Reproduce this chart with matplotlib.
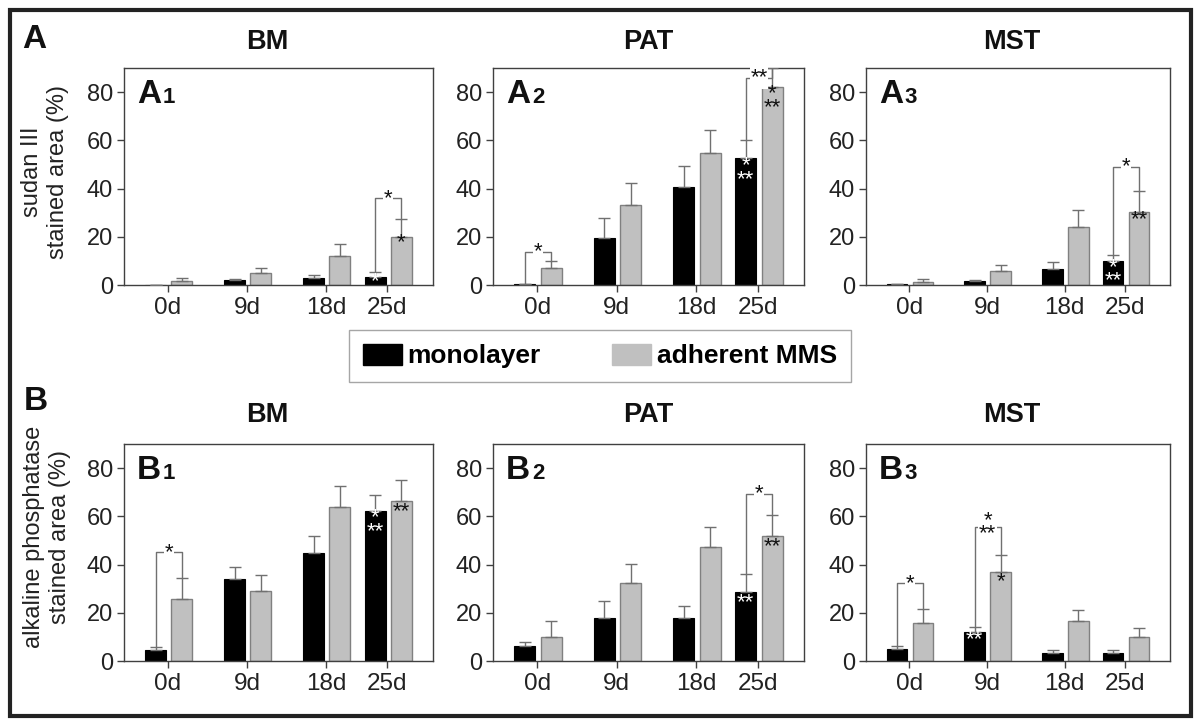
import matplotlib
matplotlib.use("Agg")
import matplotlib.pyplot as plt
from matplotlib.patches import Rectangle, Patch

plt.rcParams['font.family'] = ['Liberation Sans', 'DejaVu Sans']

days = [0, 9, 18, 25]
day_labels = ['0d', '9d', '18d', '25d']
sources = ['BM', 'PAT', 'MST']

# sudan III stained area (%), rows = BM, PAT, MST
sudan_mono = [[0.0, 1.9, 2.8, 3.5], [0.3, 19.7, 40.6, 52.6], [0.3, 1.7, 6.8, 9.8]]
sudan_mono_err = [[0.0, 0.7, 1.2, 1.8], [0.0, 8.0, 8.7, 7.5], [0.1, 0.5, 2.8, 2.5]]
sudan_adh = [[1.7, 4.8, 12.2, 20.1], [6.9, 33.1, 54.6, 82.1], [1.4, 6.0, 24.0, 30.2]]
sudan_adh_err = [[1.3, 2.1, 5.0, 7.2], [3.2, 9.1, 9.7, 7.7], [1.0, 2.4, 7.0, 8.6]]

# alkaline phosphatase stained area (%)
alp_mono = [[4.7, 33.9, 44.7, 62.4], [6.2, 17.9, 17.7, 28.7], [5.0, 11.9, 3.2, 3.2]]
alp_mono_err = [[1.3, 5.1, 7.2, 6.3], [1.8, 6.9, 5.3, 7.3], [1.4, 2.1, 1.2, 1.2]]
alp_adh = [[25.6, 28.9, 63.8, 66.3], [9.8, 32.4, 47.2, 51.9], [15.6, 36.8, 16.5, 9.8]]
alp_adh_err = [[9.0, 6.7, 8.7, 8.9], [6.7, 7.7, 8.4, 8.6], [5.9, 7.1, 4.5, 4.0]]

# significance brackets: (day index, bracket height, label)
sudan_brackets = [[(3, 36, '*')], [(0, 13.7, '*'), (3, 85.9, '**')], [(3, 48.9, '*')]]
alp_brackets = [[(0, 45.1, '*')], [(3, 69.2, '*')], [(0, 32.2, '*'), (1, 55.5, '*\n**')]]

# stars inside bars: (day index, series 0=mono 1=adh, y, label)
sudan_stars = [[(3, 0, 1.5, '*'), (3, 1, 17.5, '*')],
               [(3, 0, 46.5, '*\n**'), (3, 1, 76.5, '*\n**')],
               [(3, 0, 4.5, '*\n**'), (3, 1, 27, '**')]]
alp_stars = [[(3, 0, 56.5, '*\n**'), (3, 1, 62, '**')],
             [(3, 0, 24, '**'), (3, 1, 47.5, '**')],
             [(1, 0, 8.7, '**'), (1, 1, 33, '*')]]

BLACK = '#000000'
GREY = '#c0c0c0'
GREY_EDGE = '#808080'
ERR = '#707070'

W, H = 1200, 725
fig = plt.figure(figsize=(12, 7.25), dpi=100)


def rect(l, t, r, b):
    return [l / W, 1 - b / H, (r - l) / W, (b - t) / H]


cols = [(124, 433), (493, 804), (866, 1170)]
rows = [(68, 285), (444, 661)]
title_x = [267, 648, 1012]
off_mono, off_adh, bw = -1.4, 1.6, 2.4


def draw_panel(ax, mono, mono_err, adh, adh_err, brackets, stars, tag, num):
    xm = [d + off_mono for d in days]
    xa = [d + off_adh for d in days]
    ax.bar(xm, mono, bw, color=BLACK, edgecolor=BLACK, linewidth=0.8, zorder=2)
    ax.bar(xa, adh, bw, color=GREY, edgecolor=GREY_EDGE, linewidth=1.0, zorder=2)
    ax.errorbar(xm, mono, yerr=[[0] * 4, mono_err], fmt='none', ecolor=ERR,
                elinewidth=1, capsize=4, capthick=1, zorder=3)
    ax.errorbar(xa, adh, yerr=[[0] * 4, adh_err], fmt='none', ecolor=ERR,
                elinewidth=1, capsize=4, capthick=1, zorder=3)
    for i, top, lab in brackets:
        y0 = mono[i] + mono_err[i]
        y1 = adh[i] + adh_err[i]
        ax.plot([xm[i], xm[i], xa[i], xa[i]], [y0, top, top, y1],
                color=ERR, lw=1, zorder=3)
        ax.text((xm[i] + xa[i]) / 2, top, lab, ha='center', va='center', fontsize=16,
                linespacing=0.55, color='#111111', zorder=4,
                bbox=dict(facecolor='white', edgecolor='none', pad=0.5))
    for i, s, y, lab in stars:
        x = xm[i] if s == 0 else xa[i]
        ax.text(x, y, lab, ha='center', va='center', fontsize=16, linespacing=0.55,
                color='white' if s == 0 else '#111111', zorder=4)
    ax.set_xlim(-5, 30.2)
    ax.set_ylim(0, 90)
    ax.set_xticks(days)
    ax.set_xticklabels(day_labels)
    ax.set_yticks([0, 20, 40, 60, 80])
    ax.tick_params(direction='out', length=5, width=1, labelsize=17, pad=3,
                   color='#404040', labelcolor='#222222')
    ax.tick_params(axis='x', labelsize=17.5, pad=3.5)
    for sp in ax.spines.values():
        sp.set_color('#404040')
        sp.set_linewidth(1)
    ax.text(0.042, 0.839, tag, transform=ax.transAxes, fontsize=24, fontweight='bold',
            color='#111111', va='baseline')
    ax.text(0.126, 0.839, num, transform=ax.transAxes, fontsize=16, fontweight='bold',
            color='#111111', va='baseline')


for r, (data, tag) in enumerate([((sudan_mono, sudan_mono_err, sudan_adh, sudan_adh_err,
                                    sudan_brackets, sudan_stars), 'A'),
                                   ((alp_mono, alp_mono_err, alp_adh, alp_adh_err,
                                     alp_brackets, alp_stars), 'B')]):
    t, b = rows[r]
    for c in range(3):
        l, rr = cols[c]
        ax = fig.add_axes(rect(l, t, rr, b))
        draw_panel(ax, data[0][c], data[1][c], data[2][c], data[3][c],
                   data[4][c], data[5][c], tag, str(c + 1))
        fig.text(title_x[c] / W, 1 - (42 if r == 0 else 415) / H, sources[c],
                 ha='center', va='center', fontsize=19.5, fontweight='bold', color='#111111')

fig.text(34 / W, 1 - 39 / H, 'A', ha='center', va='center', fontsize=24,
         fontweight='bold', color='#111111')
fig.text(36 / W, 1 - 401 / H, 'B', ha='center', va='center', fontsize=24,
         fontweight='bold', color='#111111')
fig.text(45 / W, 1 - 172 / H, 'sudan III\nstained area (%)', rotation=90,
         ha='center', va='center', fontsize=17, color='#222222', multialignment='center')
fig.text(47 / W, 1 - 537 / H, 'alkaline phosphatase\nstained area (%)', rotation=90,
         ha='center', va='center', fontsize=17, color='#222222', multialignment='center')

leg = fig.legend([Patch(facecolor=BLACK, edgecolor=BLACK),
                  Patch(facecolor=GREY, edgecolor=GREY)],
                 ['monolayer', 'adherent MMS'], ncol=2, loc='center',
                 bbox_to_anchor=(600 / W, 1 - 356 / H), frameon=True, fancybox=False,
                 edgecolor='#909090', prop={'weight': 'bold', 'size': 19},
                 handlelength=1.48, handleheight=0.87, handletextpad=0.23,
                 columnspacing=2.7, borderpad=0.5, borderaxespad=0)
leg.get_frame().set_linewidth(1)

fig.patches.append(Rectangle((10 / W, 1 - 716 / H), 1181 / W, 706 / H, transform=fig.transFigure,
                             fill=False, edgecolor='#222222', linewidth=3))

fig.savefig('out.png', dpi=100)
